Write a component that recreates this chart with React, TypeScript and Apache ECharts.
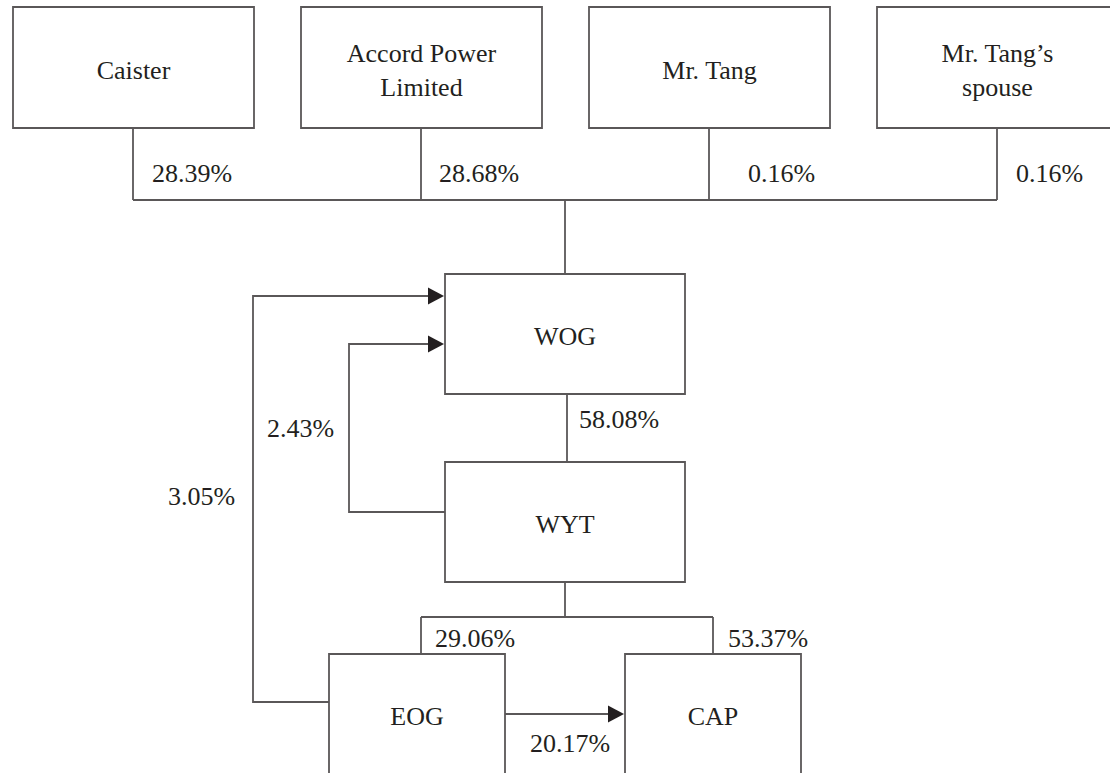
import React, { useEffect, useRef } from 'react';
import * as echarts from 'echarts';

// ---- data ----
const entities = ['Caister', 'Accord Power\nLimited', 'Mr. Tang', 'Mr. Tang\u2019s\nspouse', 'WOG', 'WYT', 'EOG', 'CAP'];
const stakeHolders = ['Caister', 'Accord Power Limited', 'Mr. Tang', 'Mr. Tang\u2019s spouse', 'WOG', 'WYT', 'EOG', 'WYT', 'WYT', 'EOG'];
const stakeTargets = ['WOG', 'WOG', 'WOG', 'WOG', 'WYT', 'WOG', 'WOG', 'EOG', 'CAP', 'CAP'];
const stakeValues = [28.39, 28.68, 0.16, 0.16, 58.08, 2.43, 3.05, 29.06, 53.37, 20.17];

// ---- layout (diagram units = pixels of the 1110 x 773 canvas) ----
const boxRects = [
  [13, 7, 241, 121], [301, 7, 241, 121], [589, 7, 241, 121], [877, 7, 241, 121],
  [445, 274, 240, 120], [445, 462, 240, 120], [329, 654, 176, 140], [625, 654, 176, 140],
];
const boxTextY = [70, 70, 70, 70, 336, 524, 716, 716];
const stakeLabelPos = [
  [152, 173], [439, 173], [748, 173], [1016, 173], [579, 419],
  [267, 428], [168, 496], [435, 638], [728, 638], [530, 743],
];
const connectors: { pts: number[][]; arrow: boolean }[] = [
  { pts: [[133, 128], [133, 200]], arrow: false },
  { pts: [[421, 128], [421, 200]], arrow: false },
  { pts: [[709, 128], [709, 200]], arrow: false },
  { pts: [[997, 128], [997, 200]], arrow: false },
  { pts: [[133, 200], [997, 200]], arrow: false },
  { pts: [[565, 200], [565, 274]], arrow: false },
  { pts: [[567, 394], [567, 462]], arrow: false },
  { pts: [[565, 582], [565, 617]], arrow: false },
  { pts: [[421, 617], [713, 617]], arrow: false },
  { pts: [[421, 617], [421, 654]], arrow: false },
  { pts: [[713, 617], [713, 654]], arrow: false },
  { pts: [[329, 702], [253, 702], [253, 296], [444, 296]], arrow: true },
  { pts: [[445, 512], [349, 512], [349, 344], [444, 344]], arrow: true },
  { pts: [[505, 714], [624, 714]], arrow: true },
];

const LINE = '#5a5758';
const INK = '#231f20';
const FONT = '"Liberation Serif", "Times New Roman", serif';
const FS = 26;
const LW = 1.8;

export default function App() {
  const ref = useRef<HTMLDivElement>(null);
  useEffect(() => {
    document.body.style.margin = '0';
    const chart = echarts.init(ref.current!, null, { renderer: 'svg' });
    chart.setOption({
      animation: false,
      backgroundColor: '#ffffff',
      grid: { left: 0, right: 0, top: 0, bottom: 0 },
      xAxis: { type: 'value', min: 0, max: 1110, show: false },
      yAxis: { type: 'value', min: 0, max: 773, inverse: true, show: false },
      series: [
        {
          type: 'custom',
          name: 'connectors',
          clip: false,
          data: connectors.map((c) => c.pts[0]),
          renderItem: (params: any, api: any) => {
            const c = connectors[params.dataIndex];
            const px = c.pts.map((p) => api.coord(p));
            const children: any[] = [];
            if (c.arrow) {
              const n = px.length;
              const tip = px[n - 1];
              const prev = px[n - 2];
              const dx = tip[0] - prev[0];
              const dy = tip[1] - prev[1];
              const len = Math.hypot(dx, dy) || 1;
              const ux = dx / len, uy = dy / len;
              const L = 16, W = 8.5;
              const base = [tip[0] - ux * L, tip[1] - uy * L];
              const linePts = px.slice(0, n - 1).concat([base]);
              children.push({ type: 'polyline', shape: { points: linePts }, style: { stroke: LINE, lineWidth: LW, fill: 'none' } });
              children.push({
                type: 'polygon',
                shape: { points: [tip, [base[0] - uy * W, base[1] + ux * W], [base[0] + uy * W, base[1] - ux * W]] },
                style: { fill: INK, stroke: 'none' },
              });
            } else {
              children.push({ type: 'polyline', shape: { points: px }, style: { stroke: LINE, lineWidth: LW, fill: 'none' } });
            }
            return { type: 'group', children };
          },
        },
        {
          type: 'custom',
          name: 'entities',
          clip: false,
          data: boxRects,
          renderItem: (params: any, api: any) => {
            const i = params.dataIndex;
            const x = api.value(0), y = api.value(1), w = api.value(2), h = api.value(3);
            const p0 = api.coord([x, y]);
            const p1 = api.coord([x + w, y + h]);
            const tc = api.coord([x + w / 2, boxTextY[i]]);
            return {
              type: 'group',
              children: [
                {
                  type: 'rect',
                  shape: { x: p0[0], y: p0[1], width: p1[0] - p0[0], height: p1[1] - p0[1] },
                  style: { fill: 'none', stroke: LINE, lineWidth: LW },
                },
                {
                  type: 'text',
                  x: tc[0],
                  y: tc[1],
                  style: {
                    text: entities[i], align: 'center', verticalAlign: 'middle',
                    fontFamily: FONT, fontSize: FS, fill: INK, lineHeight: 34,
                  },
                },
              ],
            };
          },
        },
        {
          type: 'custom',
          name: 'stakes',
          clip: false,
          data: stakeLabelPos,
          renderItem: (params: any, api: any) => {
            const i = params.dataIndex;
            const p = api.coord([api.value(0), api.value(1)]);
            return {
              type: 'text',
              x: p[0],
              y: p[1],
              style: {
                text: stakeValues[i].toFixed(2) + '%', align: 'left', verticalAlign: 'middle',
                fontFamily: FONT, fontSize: FS, fill: INK,
              },
            };
          },
        },
      ],
    });
    return () => chart.dispose();
  }, []);
  return <div ref={ref} style={{ width: 1110, height: 773 }} />;
}
